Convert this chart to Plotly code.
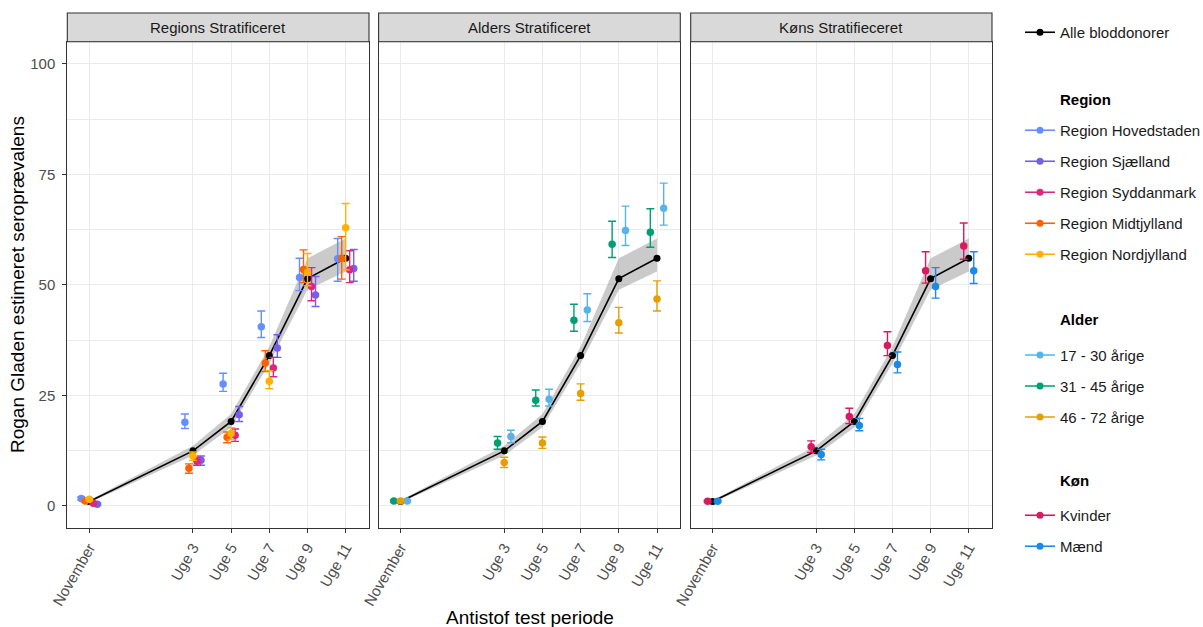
import plotly.graph_objects as go

# ---------------- data ----------------
week_labels = ["November", "Uge 3", "Uge 5", "Uge 7", "Uge 9", "Uge 11"]
week_pos = [-2.43, 3, 5, 7, 9, 11]

alle_est = [1.0, 12.45, 19.1, 34.0, 51.4, 56.0]
alle_lo = [0.7, 11.4, 17.8, 32.2, 48.9, 53.0]
alle_hi = [1.3, 13.6, 20.8, 36.0, 56.0, 60.5]

# Region stratified
region_names = ["Region Hovedstaden", "Region Sjælland", "Region Syddanmark",
                "Region Midtjylland", "Region Nordjylland"]
region_colors = ["#648FFF", "#785EF0", "#DC267F", "#FE6100", "#FFB000"]
region_dodge = [0, 4, 3, 1, 2]
hoved_est = [1.65, 18.9, 27.6, 40.5, 51.65, 55.9]
hoved_lo = [1.3, 17.5, 25.9, 38.1, 48.7, 50.8]
hoved_hi = [2.0, 20.8, 30.0, 44.1, 56.0, 60.5]
sjael_est = [0.4, 10.3, 20.6, 35.7, 47.7, 53.7]
sjael_lo = [0.2, 9.2, 19.1, 33.6, 45.1, 50.8]
sjael_hi = [0.6, 11.3, 22.5, 38.7, 51.9, 58.0]
sydd_est = [0.6, 10.1, 16.0, 31.2, 49.6, 53.4]
sydd_lo = [0.4, 9.2, 14.6, 29.2, 46.4, 50.5]
sydd_hi = [0.8, 11.0, 17.4, 33.6, 53.9, 57.7]
midt_est = [1.1, 8.5, 15.5, 32.3, 53.5, 56.0]
midt_lo = [0.8, 7.4, 14.3, 30.4, 50.5, 51.3]
midt_hi = [1.4, 9.5, 16.7, 35.1, 57.9, 60.9]
nord_est = [1.5, 11.3, 16.4, 28.2, 52.85, 62.9]
nord_lo = [1.2, 10.3, 15.0, 26.5, 49.8, 53.4]
nord_hi = [1.8, 12.2, 17.7, 30.6, 57.1, 68.4]

# Age stratified
age_names = ["17 - 30 årige", "31 - 45 årige", "46 - 72 årige"]
age_colors = ["#56B4E9", "#009E73", "#E69F00"]
age_dodge = [2, 0, 1]
a1730_est = [1.1, 15.7, 24.1, 44.3, 62.3, 67.3]
a1730_lo = [0.9, 14.3, 22.6, 41.7, 58.9, 63.5]
a1730_hi = [1.3, 17.1, 26.4, 48.0, 67.8, 73.0]
a3145_est = [1.1, 14.2, 23.9, 42.0, 59.2, 61.9]
a3145_lo = [0.9, 12.8, 22.6, 39.5, 56.2, 58.5]
a3145_hi = [1.3, 15.7, 26.2, 45.6, 64.4, 67.2]
a4672_est = [1.1, 9.8, 14.2, 25.4, 41.4, 46.8]
a4672_lo = [0.9, 8.7, 13.0, 23.9, 39.1, 44.1]
a4672_hi = [1.3, 11.0, 15.6, 27.6, 44.9, 50.9]

# Sex stratified
sex_names = ["Kvinder", "Mænd"]
sex_colors = ["#D81B60", "#1E88E5"]
sex_dodge = [0, 1]
kv_est = [1.05, 13.4, 20.2, 36.3, 53.2, 58.8]
kv_lo = [0.85, 12.1, 18.6, 34.0, 50.4, 55.8]
kv_hi = [1.25, 14.7, 22.1, 39.4, 57.5, 64.0]
m_est = [1.05, 11.6, 18.2, 32.0, 49.6, 53.2]
m_lo = [0.85, 10.4, 17.0, 30.1, 47.0, 50.3]
m_hi = [1.25, 12.8, 19.8, 34.8, 53.9, 57.5]

panel_titles = ["Regions Stratificeret", "Alders Stratificeret", "Køns Stratifieceret"]
group_titles = ["Region", "Alder", "Køn"]
y_ticks = [0, 25, 50, 75, 100]

facets = [
    dict(names=region_names, colors=region_colors, dodge=region_dodge,
         est=[hoved_est, sjael_est, sydd_est, midt_est, nord_est],
         lo=[hoved_lo, sjael_lo, sydd_lo, midt_lo, nord_lo],
         hi=[hoved_hi, sjael_hi, sydd_hi, midt_hi, nord_hi]),
    dict(names=age_names, colors=age_colors, dodge=age_dodge,
         est=[a1730_est, a3145_est, a4672_est],
         lo=[a1730_lo, a3145_lo, a4672_lo],
         hi=[a1730_hi, a3145_hi, a4672_hi]),
    dict(names=sex_names, colors=sex_colors, dodge=sex_dodge,
         est=[kv_est, m_est], lo=[kv_lo, m_lo], hi=[kv_hi, m_hi]),
]

# ---------------- layout geometry ----------------
W, H = 1203, 627
ML, MR, MT, MB = 67, 211, 13, 99
PW = W - ML - MR
PH = H - MT - MB
FONT = "Liberation Sans, Arial, Helvetica, sans-serif"
DODGE_W = 1.05


def px_x(px):
    return (px - ML) / PW


def px_y(py):
    return (H - MB - py) / PH


panel_px = [(67.3, 369.0), (378.6, 680.3), (690.7, 992.0)]
panel_top = px_y(41.7)

fig = go.Figure()

for p, fc in enumerate(facets):
    xa = "x" if p == 0 else f"x{p + 1}"
    ya = "y" if p == 0 else f"y{p + 1}"
    # ribbon
    fig.add_trace(go.Scatter(
        x=week_pos + week_pos[::-1], y=alle_hi + alle_lo[::-1],
        fill="toself", fillcolor="rgba(150,150,150,0.5)", line=dict(width=0),
        mode="lines", hoverinfo="skip", showlegend=False, xaxis=xa, yaxis=ya))
    # overall line
    fig.add_trace(go.Scatter(
        x=week_pos, y=alle_est, mode="lines+markers", name="Alle bloddonorer",
        line=dict(color="black", width=1.6), marker=dict(color="black", size=7),
        showlegend=(p == 0), legend="legend", legendgroup="alle",
        xaxis=xa, yaxis=ya))
    n = len(fc["names"])
    for i, name in enumerate(fc["names"]):
        off = (fc["dodge"][i] - (n - 1) / 2) * DODGE_W / n
        est, lo, hi = fc["est"][i], fc["lo"][i], fc["hi"][i]
        col = fc["colors"][i]
        fig.add_trace(go.Scatter(
            x=[w + off for w in week_pos], y=est, mode="markers", name=name,
            marker=dict(color=col, size=7.5),
            error_y=dict(type="data", symmetric=False,
                         array=[h - e for h, e in zip(hi, est)],
                         arrayminus=[e - l for e, l in zip(est, lo)],
                         color=col, thickness=1.4, width=4),
            showlegend=False, legendgroup=name, xaxis=xa, yaxis=ya))
    # legend-only entries (line + point key)
    for i, name in enumerate(fc["names"]):
        fig.add_trace(go.Scatter(
            x=[None], y=[None], mode="lines+markers", name=name,
            line=dict(color=fc["colors"][i], width=1.6),
            marker=dict(color=fc["colors"][i], size=7),
            legend=f"legend{p + 2}", legendgroup=name, showlegend=True,
            xaxis=xa, yaxis=ya))

axis_common = dict(showline=True, mirror=True, linecolor="#333333", linewidth=1.1,
                   showgrid=True, gridcolor="#EBEBEB", gridwidth=1.1, zeroline=False)

annotations = []
shapes = []
for p in range(3):
    x0, x1 = px_x(panel_px[p][0]), px_x(panel_px[p][1])
    xkey = "xaxis" if p == 0 else f"xaxis{p + 1}"
    ykey = "yaxis" if p == 0 else f"yaxis{p + 1}"
    fig.layout[xkey] = dict(
        domain=[x0, x1], range=[-3.58, 12.22], tickmode="array",
        tickvals=week_pos, ticktext=week_labels, tickangle=-60,
        ticks="outside", ticklen=4, tickcolor="#333333", tickwidth=1.1,
        tickfont=dict(family=FONT, size=15, color="#4D4D4D"),
        anchor="y" if p == 0 else f"y{p + 1}", **axis_common)
    ydict = dict(
        domain=[0, panel_top], range=[-5, 105], tickmode="array", tickvals=y_ticks,
        minor=dict(tick0=0, dtick=12.5, showgrid=True, gridcolor="#EBEBEB", gridwidth=0.7),
        anchor="x" if p == 0 else f"x{p + 1}", **axis_common)
    if p == 0:
        ydict.update(ticks="outside", ticklen=4, tickcolor="#333333", tickwidth=1.1,
                     ticklabelstandoff=4,
                     tickfont=dict(family=FONT, size=15, color="#4D4D4D"))
    else:
        ydict.update(matches="y", showticklabels=False, ticks="")
    fig.layout[ykey] = ydict
    shapes.append(dict(type="rect", xref="paper", yref="paper", x0=x0, x1=x1,
                       y0=panel_top, y1=1.0, fillcolor="#D9D9D9",
                       line=dict(color="#333333", width=1.1), layer="above"))
    annotations.append(dict(text=panel_titles[p], xref="paper", yref="paper",
                            x=(x0 + x1) / 2, y=(panel_top + 1.0) / 2,
                            xanchor="center", yanchor="middle", showarrow=False,
                            font=dict(family=FONT, size=15, color="#1A1A1A")))

annotations.append(dict(text="Antistof test periode", xref="paper", yref="paper",
                        x=(px_x(67.3) + px_x(992)) / 2, y=px_y(617), xanchor="center",
                        yanchor="middle", showarrow=False,
                        font=dict(family=FONT, size=19, color="black")))
annotations.append(dict(text="Rogan Gladen estimeret seroprævalens", xref="paper",
                        yref="paper", x=px_x(18), y=px_y(285), textangle=-90,
                        xanchor="center", yanchor="middle", showarrow=False,
                        font=dict(family=FONT, size=19, color="black")))

# legend group titles
for title, py in zip(group_titles, [99.3, 319.3, 480.7]):
    annotations.append(dict(text="<b>" + title + "</b>", xref="paper", yref="paper",
                            x=px_x(1058), y=px_y(py), xanchor="left", yanchor="middle",
                            showarrow=False, font=dict(family=FONT, size=15, color="black")))

leg_common = dict(xanchor="left", yanchor="top", bgcolor="rgba(0,0,0,0)",
                  borderwidth=0, tracegroupgap=8.5, traceorder="grouped",
                  font=dict(family=FONT, size=15, color="#1A1A1A"))
leg_x = px_x(1020)
fig.update_layout(
    width=W, height=H, plot_bgcolor="white", paper_bgcolor="white",
    margin=dict(l=ML, r=MR, t=MT, b=MB, autoexpand=False),
    annotations=annotations, shapes=shapes,
    legend=dict(x=leg_x, y=px_y(16), **leg_common),
    legend2=dict(x=leg_x, y=px_y(114), **leg_common),
    legend3=dict(x=leg_x, y=px_y(338.7), **leg_common),
    legend4=dict(x=leg_x, y=px_y(499), **leg_common),
)

fig.write_html("out.html",
               config={"displayModeBar": False},
               post_script="document.body.style.margin='0px';"
                           "document.body.style.overflow='hidden';")
